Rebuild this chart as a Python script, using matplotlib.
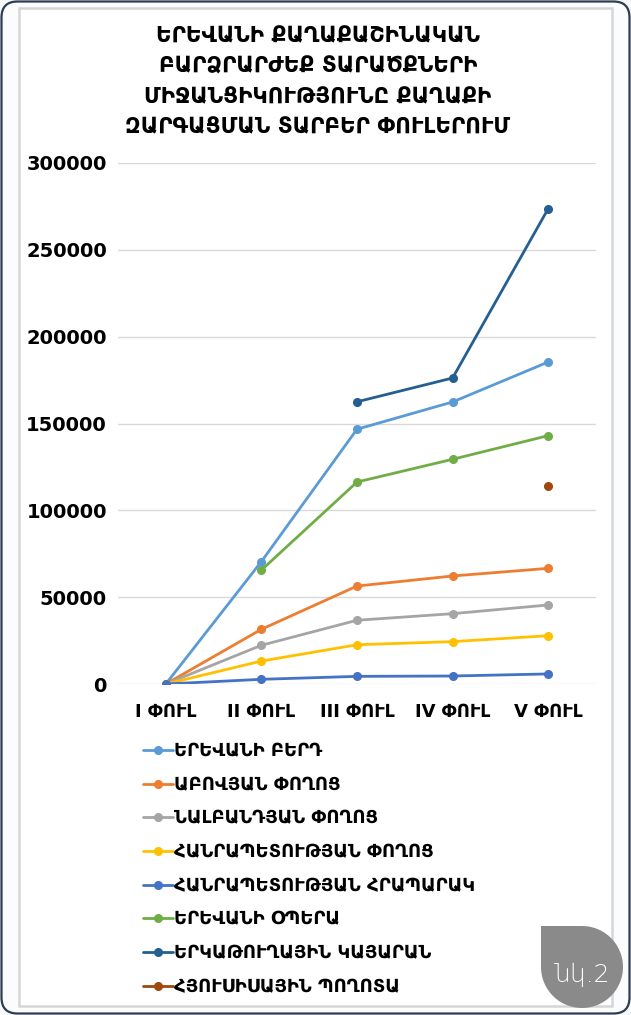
import numpy as np
import matplotlib
matplotlib.use("Agg")
import matplotlib.pyplot as plt
from matplotlib.patches import Rectangle, FancyBboxPatch, PathPatch
from matplotlib.path import Path

plt.rcParams['font.family'] = ['DejaVu Sans']

title_lines = ["ԵՐԵՎԱՆԻ ՔԱՂԱՔԱՇԻՆԱԿԱՆ",
               "ԲԱՐՁՐԱՐԺԵՔ ՏԱՐԱԾՔՆԵՐԻ",
               "ՄԻՋԱՆՑԻԿՈՒԹՅՈՒՆԸ ՔԱՂԱՔԻ",
               "ԶԱՐԳԱՑՄԱՆ ՏԱՐԲԵՐ ՓՈՒԼԵՐՈՒՄ"]
categories = ["I ՓՈՒԼ", "II ՓՈՒԼ", "III ՓՈՒԼ", "IV ՓՈՒԼ", "V ՓՈՒԼ"]
nan = np.nan
series_names = ["ԵՐԵՎԱՆԻ ԲԵՐԴ", "ԱԲՈՎՅԱՆ ՓՈՂՈՑ", "ՆԱԼԲԱՆԴՅԱՆ ՓՈՂՈՑ",
                "ՀԱՆՐԱՊԵՏՈՒԹՅԱՆ ՓՈՂՈՑ", "ՀԱՆՐԱՊԵՏՈՒԹՅԱՆ ՀՐԱՊԱՐԱԿ",
                "ԵՐԵՎԱՆԻ ՕՊԵՐԱ", "ԵՐԿԱԹՈՒՂԱՅԻՆ ԿԱՅԱՐԱՆ", "ՀՅՈՒՍԻՍԱՅԻՆ ՊՈՂՈՏԱ"]
erevani_berd      = [0, 70500, 146700, 162400, 185400]
abovyan           = [0, 31500, 56400, 62200, 66600]
nalbandyan        = [0, 22300, 36700, 40500, 45500]
hanrapetutyan_p   = [0, 13200, 22600, 24400, 27800]
hanrapetutyan_hr  = [0, 2700, 4400, 4600, 5800]
opera             = [nan, 65600, 116300, 129400, 143000]
kayaran           = [nan, nan, 162500, 176200, 273700]
hyusisayin        = [nan, nan, nan, nan, 114200]
series_values = [erevani_berd, abovyan, nalbandyan, hanrapetutyan_p,
                 hanrapetutyan_hr, opera, kayaran, hyusisayin]
colors = ["#5B9BD5", "#ED7D31", "#A5A5A5", "#FFC000", "#4472C4",
          "#70AD47", "#255E91", "#9E480E"]
yticks = [0, 50000, 100000, 150000, 200000, 250000, 300000]
badge_text = "նկ.2"

W, H = 631, 1015
fig = plt.figure(figsize=(W / 100, H / 100), dpi=100)
fig.patch.set_facecolor("#f7f8fa")

# background frame (pixel coordinates)
bg = fig.add_axes([0, 0, 1, 1], zorder=-5)
bg.set_xlim(0, W)
bg.set_ylim(H, 0)
bg.axis("off")
bg.add_patch(FancyBboxPatch((1.5, 1.5), W - 3, H - 3,
                            boxstyle="round,pad=0,rounding_size=16",
                            facecolor="#fbfcfd", edgecolor="#2c3e50", lw=1.6))
bg.add_patch(Rectangle((19, 8), 593, 998, facecolor="white",
                       edgecolor="#d6d6d6", lw=1.8))

# chart axes
ax = fig.add_axes([118 / W, 1 - 684 / H, (596 - 118) / W, (684 - 163) / H])
ax.patch.set_alpha(0)
x = np.arange(len(categories))
handles = []
for name, vals, c in zip(series_names, series_values, colors):
    h, = ax.plot(x, vals, color=c, lw=2.0, marker="o", markersize=5.5,
                 label=name, solid_capstyle="round")
    handles.append(h)
ax.set_xlim(-0.5, len(categories) - 0.5)
ax.set_ylim(0, 300000)
ax.set_yticks(yticks)
ax.set_yticklabels([str(v) for v in yticks], fontweight="bold", fontsize=14)
ax.set_xticks(x)
ax.set_xticklabels(categories, fontweight="bold", fontsize=13)
ax.tick_params(length=0)
ax.tick_params(axis="y", pad=8)
ax.tick_params(axis="x", pad=14)
ax.grid(axis="y", color="#d9d9d9", lw=1.0)
ax.set_axisbelow(True)
for s in ax.spines.values():
    s.set_visible(False)

# title
title_y = [36, 66, 97, 127]
for t, yy in zip(title_lines, title_y):
    fig.text(318 / W, 1 - yy / H, t, ha="center", va="center",
             fontsize=15.5, fontweight="bold", color="black")

# legend
fig.legend(handles, series_names, loc="upper left",
           bbox_to_anchor=(127 / W, 1 - 726 / H), frameon=False,
           handlelength=1.65, handletextpad=0.05,
           labelspacing=0.87, prop={"weight": "bold", "size": 13})

# badge (teardrop with sharp top-left corner)
cx, cy, r = 582, 967, 41
theta = np.linspace(np.pi / 2, -np.pi, 60)
pts = [(cx - r, cy - r), (cx, cy - r)]
pts += [(cx + r * np.cos(t), cy - r * np.sin(t)) for t in theta[1:]]
pts += [(cx - r, cy - r)]
codes = [Path.MOVETO] + [Path.LINETO] * (len(pts) - 2) + [Path.CLOSEPOLY]
bg.add_patch(PathPatch(Path(pts, codes), facecolor="#8a8a8a",
                       edgecolor="none", zorder=10))
bg.text(582, 975, badge_text, ha="center", va="center", color="white",
        fontsize=18, fontweight="light", zorder=11)

fig.savefig("out.png", dpi=100, facecolor=fig.get_facecolor())
